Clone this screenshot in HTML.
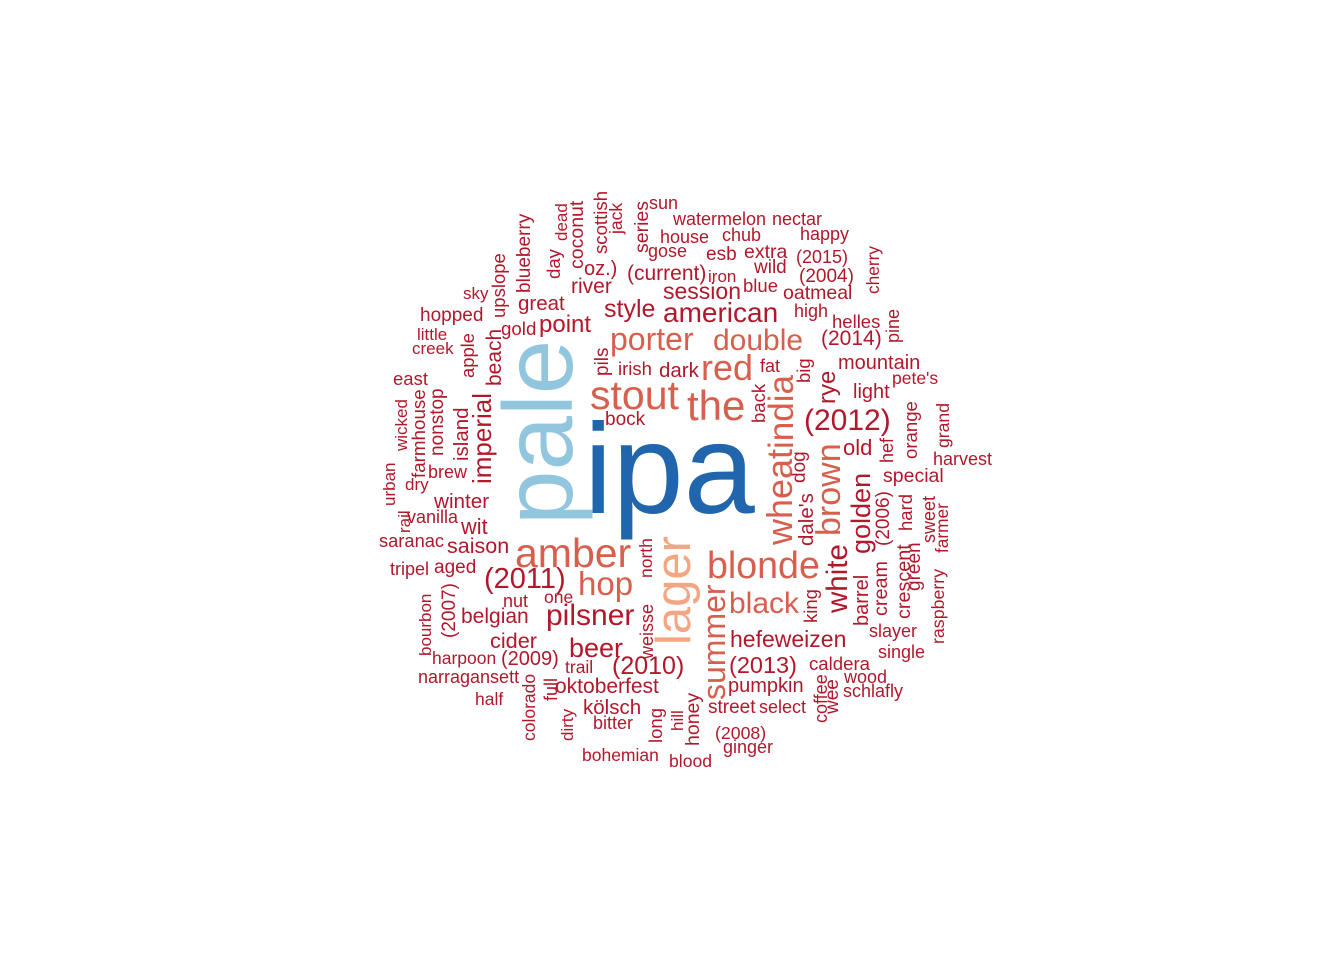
<!DOCTYPE html>
<html>
<head>
<meta charset="utf-8">
<style>
html,body{margin:0;padding:0;background:#fff;}
svg{display:block;}
text{font-family:"Liberation Sans",Arial,sans-serif;}
</style>
</head>
<body>
<svg id="cloud" width="1344" height="960" viewBox="0 0 1344 960" xmlns="http://www.w3.org/2000/svg">
<rect width="1344" height="960" fill="#ffffff"/>
</svg>
<script>
// word cloud data: words and their sizes (frequency-scaled font size), colour class, orientation
const palette = ["#b2182b", "#d6604d", "#f4a582", "#92c5de", "#2166ac"];

const hWords = ["sun","watermelon","nectar","house","chub","happy","gose","esb","extra","(2015)","(current)","iron","wild","(2004)","oz.)","river","session","blue","oatmeal","sky","great","style","american","high","hopped","helles","gold","point","little","(2014)","porter","double","creek","mountain","irish","dark","red","fat","east","pete's","light","stout","the","(2012)","bock","old","harvest","special","brew","ipa","dry","winter","vanilla","wit","saranac","saison","amber","tripel","aged","(2011)","hop","one","nut","belgian","pilsner","cider","beer","harpoon","(2009)","trail","(2010)","narragansett","oktoberfest","half","kölsch","bitter","bohemian","blood","blonde","black","hefeweizen","(2013)","pumpkin","street","select","caldera","wood","schlafly","slayer","single","(2008)","ginger"];
const hSizes = [18,18,18,18,18,18,18,19,19.5,18,21,17,19,19,20,21,23,18.5,19.5,17,20.5,25,28,18,19,18.5,18.7,24,17,21,32,30,17,20,18.5,20.5,36,18,18.5,17.5,20,41,42,30,19,22,18,19.5,18,128,17,20.7,18,21.8,18.3,21.5,41,18,19,29,33,17.5,18,21,30,21.7,27,17.5,20,17.5,25,18,21,17.5,20.5,18,17.5,17.6,37.6,30,23,23.5,20,19,18,18.6,18,18,18,18,17.7,18];
const hColors = [0,0,0,0,0,0,0,0,0,0,0,0,0,0,0,0,0,0,0,0,0,0,0,0,0,0,0,0,0,0,1,1,0,0,0,0,1,0,0,0,0,1,1,0,0,0,0,0,0,4,0,0,0,0,0,0,1,0,0,0,1,0,0,0,0,0,0,0,0,0,0,0,0,0,0,0,0,0,1,1,0,0,0,0,0,0,0,0,0,0,0,0];
// layout: left x and baseline y of horizontal words
const hLeft = [649,673,772,660,722,800,648,706,744,796,627,708,754,799,584,571,663,743,783,463,518,604,663,794,420,832,501,539,417,821,610,713,412,838,618,659,701,760,393,892,853,590,687,804,605,843,933,883,428,584,405,434,407,461,379,447,515,390,434,484,578,544,503,461,546,490,569,432,501,565,612,418,555,475,583,593,582,669,707,729,730,729,728,708,759,809,844,843,869,878,715,723];
const hBase = [209,225,225,243,241,240,257,260,258,263,280,282,273,282,275,293,299,292,299,299,310,317,322,317,321,328,335,332,340,345,350,350,354,369,375,377,380,372,385,384,398,409,420,430,425,455,465,482,478,513,490,508,523,534,547,553,567,575,573,588,595,603,607,623,625,648,657,664,665,673,674,683,693,705,714,729,761,767,578,613,647,673,692,713,713,670,683,697,637,658,739,753];

const vWords = ["upslope","blueberry","day","dead","coconut","scottish","jack","series","cherry","pine","apple","beach","pils","imperial","island","nonstop","farmhouse","wicked","urban","rail","bourbon","(2007)","colorado","full","dirty","north","weisse","long","hill","lager","pale","wheat","india","back","big","rye","brown","dog","dale's","hef","orange","grand","golden","(2006)","hard","white","king","barrel","cream","crescent","green","sweet","farmer","raspberry","summer","honey","coffee","wee"];
const vSizes = [18.5,19,18.6,17,19.5,18.6,17.5,19.5,17.3,18,18.4,21,19,26,20.5,19,18.8,17,17,17,17,19,17.5,18,17,17.5,18,18.5,17,49,98,36,35,18.5,18.5,24,34,19,20.5,18,18.6,17.6,27,19,18.5,29.5,18.5,20,19.8,19.8,19,18,17.3,17.8,32,19.5,18,19];
const vColors = [0,0,0,0,0,0,0,0,0,0,0,0,0,0,0,0,0,0,0,0,0,0,0,0,0,0,0,0,0,2,3,1,1,0,0,0,1,0,0,0,0,0,0,0,0,0,0,0,0,0,0,0,0,0,1,0,0,0];
// layout: baseline x and start (bottom) y of upward-rotated words
const vBaseX = [505,530,560,567,583,607,622,648,879,899,474,501,608,491,468,443,425,407,395,410,431,455,535,557,573,652,653,662,683,690,572,792,793,765,810,835,840,805,813,893,917,949,870,889,912,847,817,868,887,910,920,935,948,944,725,699,827,838];
const vStart = [318,293,279,241,269,254,234,253,294,343,378,386,376,484,461,456,478,451,506,533,656,638,741,701,741,578,659,743,731,645,525,545,449,423,383,404,536,483,546,463,459,448,554,546,531,613,623,626,616,619,591,543,553,644,700,746,723,714];

const svg = document.getElementById('cloud');
const NS = 'http://www.w3.org/2000/svg';
function slug(w){ return w.replace(/[^a-z0-9]+/gi,'-').replace(/^-|-$/g,'') || 'word'; }

for (let i = 0; i < hWords.length; i++) {
  const t = document.createElementNS(NS, 'text');
  t.setAttribute('x', hLeft[i]);
  t.setAttribute('y', hBase[i]);
  t.setAttribute('font-size', hSizes[i]);
  t.setAttribute('fill', palette[hColors[i]]);
  t.textContent = hWords[i];
  
  
  svg.appendChild(t);
}
for (let i = 0; i < vWords.length; i++) {
  const t = document.createElementNS(NS, 'text');
  t.setAttribute('x', 0);
  t.setAttribute('y', 0);
  t.setAttribute('transform', 'translate(' + vBaseX[i] + ',' + vStart[i] + ') rotate(-90)');
  t.setAttribute('font-size', vSizes[i]);
  t.setAttribute('fill', palette[vColors[i]]);
  t.textContent = vWords[i];
  
  
  svg.appendChild(t);
}
</script>
</body>
</html>
